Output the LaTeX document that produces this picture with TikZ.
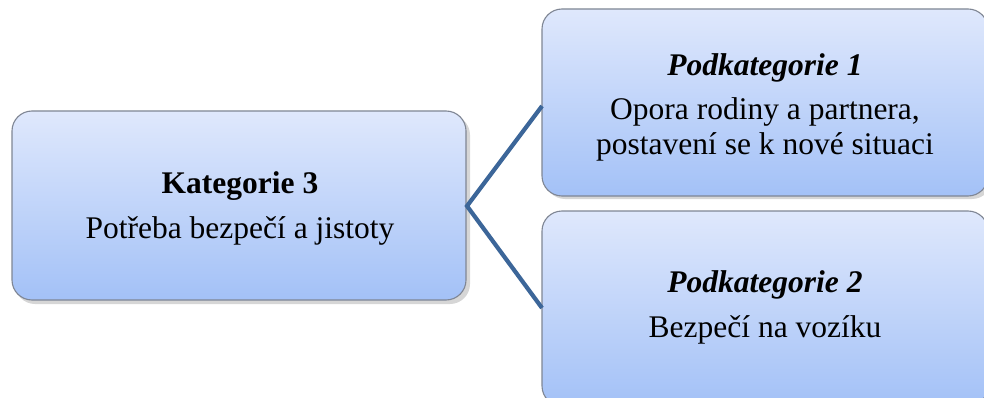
\documentclass[tikz,border=0pt]{standalone}
\usepackage{fontspec}
\setmainfont{Liberation Serif}
\definecolor{gtop}{HTML}{DFE8FC}
\definecolor{gbot}{HTML}{A3C1F7}
\definecolor{bord}{HTML}{7F8694}
\definecolor{link}{HTML}{3C6699}
\tikzset{
  card/.style={rounded corners=20pt, top color=gtop, bottom color=gbot, draw=bord, line width=1.1pt},
  cardshadow/.style={rounded corners=20pt, fill=black, opacity=0.16},
  txt/.style={font=\fontsize{31.5}{36}\selectfont, align=center, inner sep=0pt},
  connector/.style={draw=link, line width=4.2pt}
}
\begin{document}
\begin{tikzpicture}[x=1pt,y=-1pt]
\clip (0,0) rectangle (984,398);
\fill[white] (0,0) rectangle (984,398);
% shadows
\fill[cardshadow] (15,115) rectangle (470,304);
\fill[cardshadow] (545,12) rectangle (992,199);
\fill[cardshadow] (545,214) rectangle (992,410);
% boxes
\path[card] (12,111) rectangle (466,300);
\path[card] (542,9) rectangle (988,196);
\path[card] (542,211) rectangle (988,406);
\coordinate (left) at (467,206);
\coordinate (rt) at (542,106);
\coordinate (rb) at (542,308);
\node[txt] (k) at (240,186) {\textbf{Kategorie 3}};
\node[txt] (kd) at (240,231) {Potřeba bezpečí a jistoty};
\node[txt] (p1) at (765,68) {\textit{\textbf{Podkategorie 1}}};
\node[txt] (p1a) at (765,112) {Opora rodiny a partnera,};
\node[txt] (p1b) at (765,147) {postavení se k nové situaci};
\node[txt] (p2) at (765,285) {\textit{\textbf{Podkategorie 2}}};
\node[txt] (p2a) at (765,330) {Bezpečí na vozíku};
\draw[connector, line join=miter] (rt) -- (left) -- (rb);
\end{tikzpicture}
\end{document}
